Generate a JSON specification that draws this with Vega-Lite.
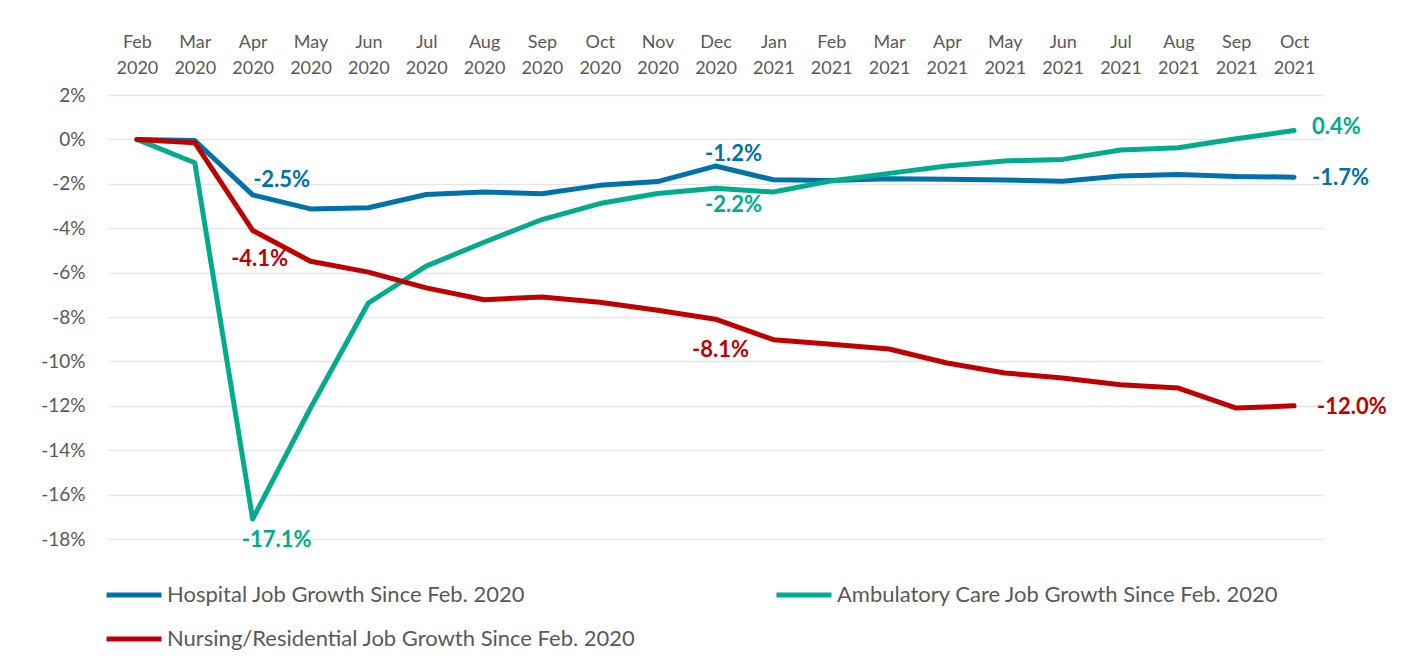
{
  "$schema": "https://vega.github.io/schema/vega-lite/v6.json",
  "width": 1215,
  "height": 444,
  "autosize": {"type": "none"},
  "padding": {"left": 108, "top": 95, "right": 81, "bottom": 127},
  "background": "white",
  "config": {
    "view": {"stroke": null},
    "font": "Lato",
    "locale": {"number": {"decimal": ".", "thousands": ",", "grouping": [3], "currency": ["$", ""], "minus": "-"}}
  },
  "data": {
    "values": [
      {"month": "Feb 2020", "series": "Hospital Job Growth Since Feb. 2020", "value": 0},
      {"month": "Mar 2020", "series": "Hospital Job Growth Since Feb. 2020", "value": -0.0005},
      {"month": "Apr 2020", "series": "Hospital Job Growth Since Feb. 2020", "value": -0.025},
      {"month": "May 2020", "series": "Hospital Job Growth Since Feb. 2020", "value": -0.0313},
      {"month": "Jun 2020", "series": "Hospital Job Growth Since Feb. 2020", "value": -0.0308},
      {"month": "Jul 2020", "series": "Hospital Job Growth Since Feb. 2020", "value": -0.0248},
      {"month": "Aug 2020", "series": "Hospital Job Growth Since Feb. 2020", "value": -0.0237},
      {"month": "Sep 2020", "series": "Hospital Job Growth Since Feb. 2020", "value": -0.0245},
      {"month": "Oct 2020", "series": "Hospital Job Growth Since Feb. 2020", "value": -0.0207},
      {"month": "Nov 2020", "series": "Hospital Job Growth Since Feb. 2020", "value": -0.019},
      {"month": "Dec 2020", "series": "Hospital Job Growth Since Feb. 2020", "value": -0.012},
      {"month": "Jan 2021", "series": "Hospital Job Growth Since Feb. 2020", "value": -0.0182},
      {"month": "Feb 2021", "series": "Hospital Job Growth Since Feb. 2020", "value": -0.0185},
      {"month": "Mar 2021", "series": "Hospital Job Growth Since Feb. 2020", "value": -0.0177},
      {"month": "Apr 2021", "series": "Hospital Job Growth Since Feb. 2020", "value": -0.018},
      {"month": "May 2021", "series": "Hospital Job Growth Since Feb. 2020", "value": -0.0183},
      {"month": "Jun 2021", "series": "Hospital Job Growth Since Feb. 2020", "value": -0.0188},
      {"month": "Jul 2021", "series": "Hospital Job Growth Since Feb. 2020", "value": -0.0165},
      {"month": "Aug 2021", "series": "Hospital Job Growth Since Feb. 2020", "value": -0.0158},
      {"month": "Sep 2021", "series": "Hospital Job Growth Since Feb. 2020", "value": -0.0167},
      {"month": "Oct 2021", "series": "Hospital Job Growth Since Feb. 2020", "value": -0.017},
      {"month": "Feb 2020", "series": "Ambulatory Care Job Growth Since Feb. 2020", "value": 0},
      {"month": "Mar 2020", "series": "Ambulatory Care Job Growth Since Feb. 2020", "value": -0.0105},
      {"month": "Apr 2020", "series": "Ambulatory Care Job Growth Since Feb. 2020", "value": -0.171},
      {"month": "May 2020", "series": "Ambulatory Care Job Growth Since Feb. 2020", "value": -0.121},
      {"month": "Jun 2020", "series": "Ambulatory Care Job Growth Since Feb. 2020", "value": -0.0737},
      {"month": "Jul 2020", "series": "Ambulatory Care Job Growth Since Feb. 2020", "value": -0.0571},
      {"month": "Aug 2020", "series": "Ambulatory Care Job Growth Since Feb. 2020", "value": -0.0463},
      {"month": "Sep 2020", "series": "Ambulatory Care Job Growth Since Feb. 2020", "value": -0.0361},
      {"month": "Oct 2020", "series": "Ambulatory Care Job Growth Since Feb. 2020", "value": -0.0289},
      {"month": "Nov 2020", "series": "Ambulatory Care Job Growth Since Feb. 2020", "value": -0.0244},
      {"month": "Dec 2020", "series": "Ambulatory Care Job Growth Since Feb. 2020", "value": -0.022},
      {"month": "Jan 2021", "series": "Ambulatory Care Job Growth Since Feb. 2020", "value": -0.0237},
      {"month": "Feb 2021", "series": "Ambulatory Care Job Growth Since Feb. 2020", "value": -0.0187},
      {"month": "Mar 2021", "series": "Ambulatory Care Job Growth Since Feb. 2020", "value": -0.0153},
      {"month": "Apr 2021", "series": "Ambulatory Care Job Growth Since Feb. 2020", "value": -0.012},
      {"month": "May 2021", "series": "Ambulatory Care Job Growth Since Feb. 2020", "value": -0.0097},
      {"month": "Jun 2021", "series": "Ambulatory Care Job Growth Since Feb. 2020", "value": -0.009},
      {"month": "Jul 2021", "series": "Ambulatory Care Job Growth Since Feb. 2020", "value": -0.0048},
      {"month": "Aug 2021", "series": "Ambulatory Care Job Growth Since Feb. 2020", "value": -0.0038},
      {"month": "Sep 2021", "series": "Ambulatory Care Job Growth Since Feb. 2020", "value": 0.0003},
      {"month": "Oct 2021", "series": "Ambulatory Care Job Growth Since Feb. 2020", "value": 0.004},
      {"month": "Feb 2020", "series": "Nursing/Residential Job Growth Since Feb. 2020", "value": 0},
      {"month": "Mar 2020", "series": "Nursing/Residential Job Growth Since Feb. 2020", "value": -0.0015},
      {"month": "Apr 2020", "series": "Nursing/Residential Job Growth Since Feb. 2020", "value": -0.041},
      {"month": "May 2020", "series": "Nursing/Residential Job Growth Since Feb. 2020", "value": -0.0549},
      {"month": "Jun 2020", "series": "Nursing/Residential Job Growth Since Feb. 2020", "value": -0.0598},
      {"month": "Jul 2020", "series": "Nursing/Residential Job Growth Since Feb. 2020", "value": -0.0669},
      {"month": "Aug 2020", "series": "Nursing/Residential Job Growth Since Feb. 2020", "value": -0.0722},
      {"month": "Sep 2020", "series": "Nursing/Residential Job Growth Since Feb. 2020", "value": -0.071},
      {"month": "Oct 2020", "series": "Nursing/Residential Job Growth Since Feb. 2020", "value": -0.0734},
      {"month": "Nov 2020", "series": "Nursing/Residential Job Growth Since Feb. 2020", "value": -0.077},
      {"month": "Dec 2020", "series": "Nursing/Residential Job Growth Since Feb. 2020", "value": -0.081},
      {"month": "Jan 2021", "series": "Nursing/Residential Job Growth Since Feb. 2020", "value": -0.0902},
      {"month": "Feb 2021", "series": "Nursing/Residential Job Growth Since Feb. 2020", "value": -0.0923},
      {"month": "Mar 2021", "series": "Nursing/Residential Job Growth Since Feb. 2020", "value": -0.0944},
      {"month": "Apr 2021", "series": "Nursing/Residential Job Growth Since Feb. 2020", "value": -0.1007},
      {"month": "May 2021", "series": "Nursing/Residential Job Growth Since Feb. 2020", "value": -0.1052},
      {"month": "Jun 2021", "series": "Nursing/Residential Job Growth Since Feb. 2020", "value": -0.1075},
      {"month": "Jul 2021", "series": "Nursing/Residential Job Growth Since Feb. 2020", "value": -0.1105},
      {"month": "Aug 2021", "series": "Nursing/Residential Job Growth Since Feb. 2020", "value": -0.112},
      {"month": "Sep 2021", "series": "Nursing/Residential Job Growth Since Feb. 2020", "value": -0.121},
      {"month": "Oct 2021", "series": "Nursing/Residential Job Growth Since Feb. 2020", "value": -0.12}
    ]
  },
  "encoding": {
    "x": {
      "field": "month", "type": "ordinal", "sort": null,
      "scale": {"type": "point", "padding": 0.5},
      "axis": {
        "orient": "top", "title": null, "domain": false, "ticks": false,
        "labelAngle": 0, "labelExpr": "split(datum.label, ' ')",
        "labelFont": "Lato", "labelFontSize": 18, "labelColor": "#595959",
        "labelLineHeight": 26, "labelPadding": 44
      }
    },
    "y": {
      "field": "value", "type": "quantitative",
      "scale": {"domain": [-0.18, 0.02], "nice": false, "zero": false},
      "axis": {
        "title": null, "domain": false, "ticks": false,
        "values": [0.02, 0, -0.02, -0.04, -0.06, -0.08, -0.1, -0.12, -0.14, -0.16, -0.18],
        "format": ".0%", "labelFont": "Lato", "labelFontSize": 19, "labelColor": "#595959",
        "labelPadding": 23, "gridColor": "#e6e6e6", "gridWidth": 1.5
      }
    },
    "color": {
      "field": "series", "type": "nominal",
      "scale": {
        "domain": ["Hospital Job Growth Since Feb. 2020", "Ambulatory Care Job Growth Since Feb. 2020", "Nursing/Residential Job Growth Since Feb. 2020"],
        "range": ["#0072A9", "#00AC8C", "#C00000"]
      },
      "legend": {
        "title": null, "orient": "none", "legendX": -4, "legendY": 470,
        "direction": "horizontal", "columns": 2, "columnPadding": 130, "rowPadding": 3,
        "symbolType": "stroke", "symbolSize": 3025, "symbolStrokeWidth": 5,
        "labelFont": "Lato", "labelFontSize": 22, "labelColor": "#595959", "labelOffset": 3,
        "labelLimit": 600
      }
    }
  },
  "layer": [
    {"mark": {"type": "line", "strokeWidth": 5, "strokeCap": "round", "strokeJoin": "round"}},
    {
      "transform": [{"filter": "datum.month === 'Apr 2020' && datum.series === 'Hospital Job Growth Since Feb. 2020'"}],
      "mark": {"type": "text", "font": "Lato", "fontWeight": "bold", "fontSize": 22, "dx": 29, "dy": -15, "baseline": "middle"},
      "encoding": {"text": {"field": "value", "format": ".1%"}, "color": {"field": "series", "type": "nominal", "legend": null}}
    },
    {
      "transform": [{"filter": "datum.month === 'Dec 2020' && datum.series === 'Hospital Job Growth Since Feb. 2020'"}],
      "mark": {"type": "text", "font": "Lato", "fontWeight": "bold", "fontSize": 22, "dx": 18, "dy": -12, "baseline": "middle"},
      "encoding": {"text": {"field": "value", "format": ".1%"}, "color": {"field": "series", "type": "nominal", "legend": null}}
    },
    {
      "transform": [{"filter": "datum.month === 'Oct 2021' && datum.series === 'Hospital Job Growth Since Feb. 2020'"}],
      "mark": {"type": "text", "font": "Lato", "fontWeight": "bold", "fontSize": 22, "dx": 18, "dy": 1, "align": "left", "baseline": "middle"},
      "encoding": {"text": {"field": "value", "format": ".1%"}, "color": {"field": "series", "type": "nominal", "legend": null}}
    },
    {
      "transform": [{"filter": "datum.month === 'Apr 2020' && datum.series === 'Ambulatory Care Job Growth Since Feb. 2020'"}],
      "mark": {"type": "text", "font": "Lato", "fontWeight": "bold", "fontSize": 22, "dx": 24, "dy": 21, "baseline": "middle"},
      "encoding": {"text": {"field": "value", "format": ".1%"}, "color": {"field": "series", "type": "nominal", "legend": null}}
    },
    {
      "transform": [{"filter": "datum.month === 'Dec 2020' && datum.series === 'Ambulatory Care Job Growth Since Feb. 2020'"}],
      "mark": {"type": "text", "font": "Lato", "fontWeight": "bold", "fontSize": 22, "dx": 18, "dy": 17, "baseline": "middle"},
      "encoding": {"text": {"field": "value", "format": ".1%"}, "color": {"field": "series", "type": "nominal", "legend": null}}
    },
    {
      "transform": [{"filter": "datum.month === 'Oct 2021' && datum.series === 'Ambulatory Care Job Growth Since Feb. 2020'"}],
      "mark": {"type": "text", "font": "Lato", "fontWeight": "bold", "fontSize": 22, "dx": 18, "dy": -4, "align": "left", "baseline": "middle"},
      "encoding": {"text": {"field": "value", "format": ".1%"}, "color": {"field": "series", "type": "nominal", "legend": null}}
    },
    {
      "transform": [{"filter": "datum.month === 'Apr 2020' && datum.series === 'Nursing/Residential Job Growth Since Feb. 2020'"}],
      "mark": {"type": "text", "font": "Lato", "fontWeight": "bold", "fontSize": 22, "dx": 7, "dy": 29, "baseline": "middle"},
      "encoding": {"text": {"field": "value", "format": ".1%"}, "color": {"field": "series", "type": "nominal", "legend": null}}
    },
    {
      "transform": [{"filter": "datum.month === 'Dec 2020' && datum.series === 'Nursing/Residential Job Growth Since Feb. 2020'"}],
      "mark": {"type": "text", "font": "Lato", "fontWeight": "bold", "fontSize": 22, "dx": 5, "dy": 31, "baseline": "middle"},
      "encoding": {"text": {"field": "value", "format": ".1%"}, "color": {"field": "series", "type": "nominal", "legend": null}}
    },
    {
      "transform": [{"filter": "datum.month === 'Oct 2021' && datum.series === 'Nursing/Residential Job Growth Since Feb. 2020'"}],
      "mark": {"type": "text", "font": "Lato", "fontWeight": "bold", "fontSize": 22, "dx": 23, "dy": 1, "align": "left", "baseline": "middle"},
      "encoding": {"text": {"field": "value", "format": ".1%"}, "color": {"field": "series", "type": "nominal", "legend": null}}
    }
  ]
}
